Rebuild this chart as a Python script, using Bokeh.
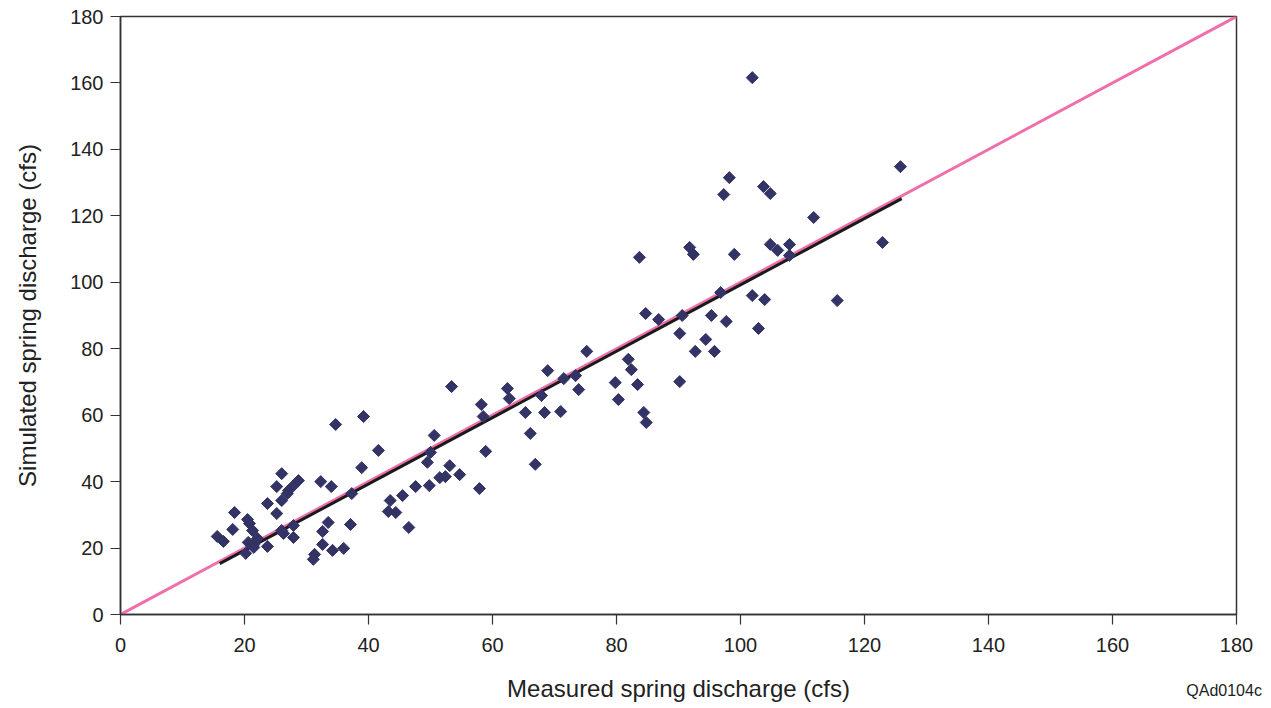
from bokeh.plotting import figure
from bokeh.models import Range1d, FixedTicker, LinearAxis
from bokeh.embed import file_html
from bokeh.resources import INLINE
import math

# Measured vs simulated spring discharge (cfs)
measured = [15.6, 16.6, 18.1, 18.4, 20.5, 20.8, 20.2, 20.6, 21.5, 22.1,
            21.5, 21.3, 23.7, 23.7, 25.2, 25.2, 26.0, 26.0, 26.0, 26.3,
            26.9, 27.1, 27.9, 28.7, 27.9, 27.9, 32.3, 34.0, 33.5, 32.6,
            32.6, 34.2, 36.0, 31.3, 31.1, 37.1, 37.3, 34.7, 39.2, 38.9,
            41.6, 50.6, 50.0, 49.5, 53.1, 54.7, 51.5, 52.4, 47.6, 49.8,
            45.5, 43.5, 43.2, 44.4, 57.9, 58.9, 53.4, 58.2, 58.5, 62.4,
            62.7, 67.9, 65.3, 68.4, 71.0, 66.1, 66.9, 68.9, 71.5, 73.4,
            73.9, 75.2, 79.8, 80.3, 46.5, 81.9, 82.4, 83.4, 84.4, 84.8,
            90.2, 90.2, 84.7, 86.8, 90.6, 96.8, 101.9, 103.9, 115.6, 95.3,
            97.7, 102.9, 94.4, 92.7, 95.8, 83.7, 91.8, 92.4, 99.0, 104.8,
            106.0, 107.9, 107.9, 101.9, 98.2, 97.3, 103.7, 104.8, 125.8, 111.8,
            122.9]
simulated = [23.5, 22.0, 25.6, 30.7, 28.6, 27.4, 18.4, 21.7, 21.1, 22.9,
             20.2, 25.3, 20.5, 33.4, 38.5, 30.4, 42.4, 34.3, 25.3, 24.4,
             36.4, 37.3, 38.8, 40.3, 26.8, 23.2, 40.0, 38.5, 27.7, 25.0,
             21.1, 19.3, 19.9, 18.1, 16.6, 27.1, 36.4, 57.2, 59.6, 44.2,
             49.4, 53.9, 48.8, 45.8, 44.8, 42.1, 41.2, 41.5, 38.5, 38.8,
             35.8, 34.3, 31.0, 30.7, 37.9, 49.1, 68.6, 63.2, 59.6, 68.0,
             65.0, 65.9, 60.8, 60.8, 61.1, 54.5, 45.2, 73.4, 71.0, 71.9,
             67.7, 79.2, 69.8, 64.7, 26.2, 76.8, 73.7, 69.2, 60.8, 57.8,
             70.1, 84.6, 90.6, 88.8, 90.0, 96.9, 96.0, 94.8, 94.5, 90.0,
             88.2, 86.1, 82.8, 79.2, 79.2, 107.5, 110.5, 108.4, 108.4, 111.4,
             109.6, 111.4, 108.1, 161.6, 131.5, 126.4, 128.8, 126.7, 134.8, 119.5,
             112.0]

# Regression line endpoints and 1:1 line
fit_x = [16, 126]
fit_y = [15.3, 125.2]
one_to_one = [0, 180]
ticks = [0, 20, 40, 60, 80, 100, 120, 140, 160, 180]
note_text = "QAd0104c"
note_pos = 178

FONT = "Liberation Sans"
AXIS_COL = "#333333"
TEXT_COL = "#222222"

p = figure(width=1271, height=708, output_backend="svg", toolbar_location=None,
           x_range=Range1d(0, 180), y_range=Range1d(0, 180),
           min_border_left=120, min_border_right=35, min_border_top=16,
           min_border_bottom=94)
p.xgrid.visible = False
p.ygrid.visible = False
p.outline_line_color = AXIS_COL
p.outline_line_width = 1.5
p.outline_line_alpha = 1.0

for ax in (p.xaxis[0], p.yaxis[0]):
    ax.ticker = FixedTicker(ticks=ticks)
    ax.minor_tick_line_color = None
    ax.major_tick_in = 0
    ax.major_tick_out = 10
    ax.axis_line_color = AXIS_COL
    ax.axis_line_width = 1.5
    ax.major_tick_line_color = AXIS_COL
    ax.major_tick_line_width = 1.2
    ax.major_label_text_font = FONT
    ax.major_label_text_font_size = "20px"
    ax.major_label_text_color = TEXT_COL
    ax.axis_label_text_font = FONT
    ax.axis_label_text_font_size = "24px"
    ax.axis_label_text_font_style = "normal"
    ax.axis_label_text_color = TEXT_COL

p.yaxis.axis_label = "Simulated spring discharge (cfs)"
p.xaxis.major_label_standoff = 13
p.yaxis.major_label_standoff = 7
p.yaxis.axis_label_standoff = 26

# Second (label-only) axis below: carries the x axis title and the figure id
p.extra_x_ranges = {"note": Range1d(0, 180)}
note_axis = LinearAxis(x_range_name="note", ticker=FixedTicker(ticks=[note_pos]),
                       major_label_overrides={note_pos: note_text},
                       axis_line_color=None, major_tick_line_color=None,
                       minor_tick_line_color=None, major_tick_in=0, major_tick_out=0,
                       major_label_standoff=27,
                       major_label_text_font=FONT, major_label_text_font_size="16px",
                       major_label_text_color=TEXT_COL,
                       axis_label="Measured spring discharge (cfs)",
                       axis_label_standoff=-27,
                       axis_label_text_font=FONT, axis_label_text_font_size="24px",
                       axis_label_text_font_style="normal",
                       axis_label_text_color=TEXT_COL)
p.add_layout(note_axis, "below")

p.line(one_to_one, one_to_one, line_color="#F06EAA", line_width=3)
p.line(fit_x, fit_y, line_color="#1a1a1a", line_width=3)
p.scatter(measured, simulated, marker="square", size=8.5, angle=math.pi / 4,
          fill_color="#333366", line_color="#333366", line_width=1)

open("out.html", "w").write(file_html(p, INLINE))
